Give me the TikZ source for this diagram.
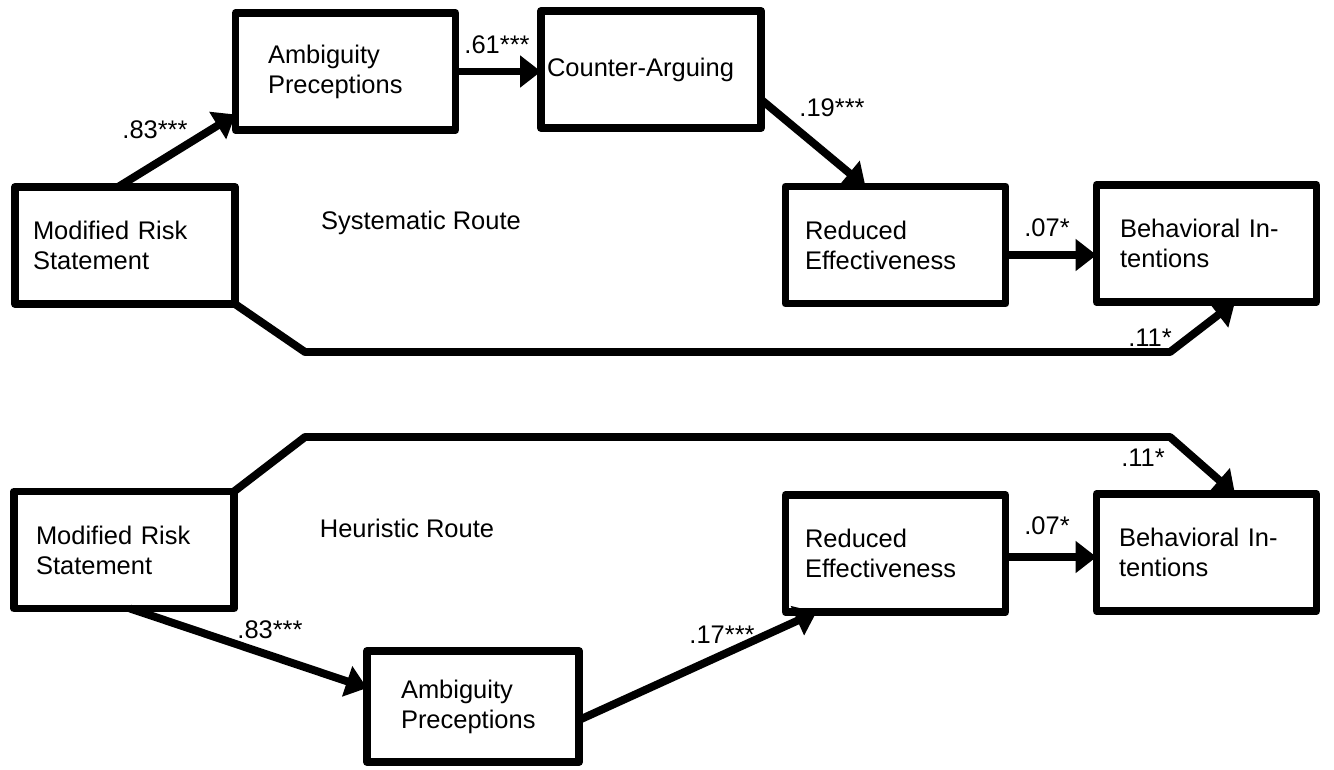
\documentclass[tikz,border=0pt]{standalone}
\usepackage{fontspec}
\setmainfont{Liberation Sans}
\usepackage{tikz}
\usetikzlibrary{arrows.meta}

\begin{document}
\begin{tikzpicture}[x=0.02cm, y=-0.02cm, outer sep=0pt, font=\fontsize{14.5}{17}\selectfont]

\tikzstyle{box}=[draw, rectangle, line width=4.5pt, line join=round, inner sep=0pt, minimum width=4.4cm, minimum height=2.34cm, align=left, text width=#1]
\tikzstyle{link}=[line width=4.5pt, line join=round, -{Triangle[length=0.42cm,width=0.62cm]}]
\tikzstyle{coef}=[inner sep=0pt]

\useasboundingbox (0,0) rectangle (1334,769);

% systematic route
\node[box=3.68cm] (mrs1) at (125,245.5) {Modified Risk\\Statement};
\node[box=3.1cm] (amb1) at (345.5,71.5) {Ambiguity\\Preceptions};
\node[box=4.16cm] (ca1) at (651,69.5) {Counter-Arguing};
\node[box=3.62cm] (red1) at (895.5,245) {Reduced\\Effectiveness};
\node[box=3.46cm] (beh1) at (1206.5,243.5) {Behavioral In-\\tentions};
\node (sys) at (421,223) {Systematic Route};

\coordinate (s1) at (305,352); \coordinate (s2) at (1170,352);

\draw[link] ([xshift=-0.14cm]mrs1.north) -- ([yshift=-0.86cm]amb1.west);
\draw[link] (amb1.east) -- (amb1.east -| ca1.west);
\draw[link] ([yshift=-0.6cm]ca1.east) -- ([xshift=-0.6cm]red1.north);
\draw[link] ([yshift=-0.2cm]red1.east) -- ([yshift=-0.2cm]red1.east -| beh1.west);
\draw[link] (mrs1.south east) -- (s1) -- (s2) -- ([xshift=0.57cm]beh1.south);

\node[coef] (c1) at (155,130) {.83***};
\node[coef] (c2) at (497,45) {.61***};
\node[coef] (c3) at (832,108) {.19***};
\node[coef] (c4) at (1047,228) {.07*};
\node[coef] (c5) at (1150,338) {.11*};

% heuristic route
\node[box=3.52cm] (mrs2) at (124,550) {Modified Risk\\Statement};
\node[box=3.62cm] (red2) at (895.5,553.5) {Reduced\\Effectiveness};
\node[box=3.5cm] (beh2) at (1206.5,552.5) {Behavioral In-\\tentions};
\node[box=2.88cm, minimum width=4.24cm, minimum height=2.22cm] (amb2) at (473,706.5) {Ambiguity\\Preceptions};
\node (heu) at (407,528) {Heuristic Route};

\coordinate (h1) at (305,437); \coordinate (h2) at (1170,437);

\draw[link] (mrs2.north east) -- (h1) -- (h2) -- ([xshift=0.57cm]beh2.north);
\draw[link] ([yshift=-0.07cm]red2.east) -- ([yshift=-0.07cm]red2.east -| beh2.west);
\draw[link] ([xshift=0.12cm]mrs2.south) -- ([yshift=0.37cm]amb2.west);
\draw[link] ([yshift=-0.27cm]amb2.east) -- ([xshift=0.62cm]red2.south west);

\node[coef] (c6) at (1143,458) {.11*};
\node[coef] (c7) at (1047,526) {.07*};
\node[coef] (c8) at (270,630) {.83***};
\node[coef] (c9) at (722,635) {.17***};

\end{tikzpicture}
\end{document}
